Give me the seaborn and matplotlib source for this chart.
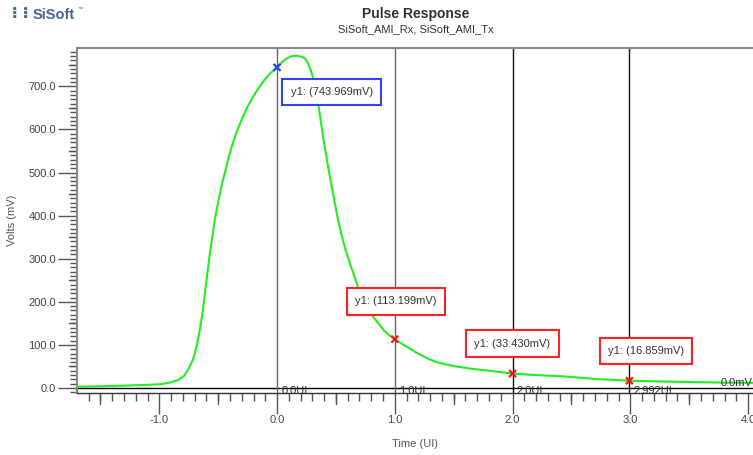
import matplotlib
matplotlib.use("Agg")
import matplotlib.pyplot as plt
import seaborn as sns
import pandas as pd
from matplotlib.ticker import MultipleLocator
from matplotlib.lines import Line2D
import matplotlib.transforms as mtransforms

# ---- data ----
time_ui = [-1.70, -1.50, -1.30, -1.15, -1.00, -0.92, -0.84, -0.79, -0.75, -0.71,
           -0.68, -0.654, -0.63, -0.611, -0.59, -0.569, -0.547, -0.527, -0.50, -0.47,
           -0.44, -0.413, -0.38, -0.342, -0.30, -0.258, -0.21, -0.159, -0.11, -0.059,
           0.00, 0.04, 0.082, 0.125, 0.167, 0.205, 0.238, 0.26, 0.28, 0.309,
           0.33, 0.351, 0.372, 0.393, 0.415, 0.436, 0.457, 0.478, 0.50, 0.521,
           0.55, 0.578, 0.62, 0.662, 0.70, 0.74, 0.78, 0.818, 0.86, 0.91,
           0.95, 1.00, 1.10, 1.19, 1.29, 1.38, 1.50, 1.64, 1.80, 2.00,
           2.20, 2.43, 2.70, 2.992, 3.30, 3.57, 3.80, 4.04]
volts_mv = [3, 4, 5.5, 7, 8.5, 12, 18.5, 28, 45, 69,
            100, 138, 180, 223, 270, 316, 356, 394, 432, 471,
            503, 533, 565, 595, 623, 649, 673, 695, 714, 730,
            744, 756, 765, 770, 771, 769, 765, 755, 742, 718,
            690, 657, 618, 579, 544, 510, 478, 448, 416, 386,
            353, 324, 288, 255, 225, 200, 180, 165, 150, 133,
            123, 113, 96, 81, 67, 58, 51, 45, 40, 33.43,
            30, 27, 21, 16.859, 15, 13.5, 12.5, 12]

cursor_ui = [0.0, 1.0, 2.0, 2.992]
cursor_mv = [743.969, 113.199, 33.430, 16.859]
cursor_lbl = ["0.0UI", "1.0UI", "2.0UI", "2.992UI"]
cursor_txt = ["y1: (743.969mV)", "y1: (113.199mV)", "y1: (33.430mV)", "y1: (16.859mV)"]
box_pos = [(0.463, 687), (1.011, 201), (2.0, 103), (3.134, 86)]

title = "Pulse Response"
subtitle = "SiSoft_AMI_Rx, SiSoft_AMI_Tx"
x_label = "Time (UI)"
y_label = "Volts (mV)"

# ---- style ----
sns.set_theme(style="white")
plt.rcParams['font.family'] = ['Liberation Sans', 'DejaVu Sans']

fig = plt.figure(figsize=(7.53, 4.55), dpi=100)
ax = fig.add_axes([77/753, 1-393/455, 1-77/753, (393-48)/455])

df = pd.DataFrame({"t": time_ui, "v": volts_mv})
sns.lineplot(data=df, x="t", y="v", ax=ax, color="#22ee22", lw=1.5, zorder=3)

ax.set_xlim(-1.699, 4.042)
ax.set_ylim(-11.6, 789)

# zero line
ax.axhline(0, color="black", lw=1, zorder=2)

# cursors
cur_colors = ["#666666", "#666666", "#111111", "#111111"]
for xu, c, lbl in zip(cursor_ui, cur_colors, cursor_lbl):
    ax.axvline(xu, color=c, lw=1, zorder=2)
    ax.annotate(lbl, xy=(xu, 0), xytext=(3, -2), textcoords="offset points",
                ha="left", va="center", fontsize=8, color="#333333", zorder=4)

mk = pd.DataFrame({"t": cursor_ui, "v": cursor_mv,
                   "c": ["blue", "red", "red", "red"]})
sns.scatterplot(data=mk, x="t", y="v", hue="c", palette={"blue": "#2244ff", "red": "#ff1111"},
                marker="x", s=25, linewidth=1.6, ax=ax, legend=False, zorder=5)

box_colors = ["#3344ff", "#ff2222", "#ff2222", "#ff2222"]
for (bx, by), txt, ec in zip(box_pos, cursor_txt, box_colors):
    ax.text(bx, by, txt, ha="center", va="center", fontsize=8, color="#333333", zorder=6,
            bbox=dict(boxstyle="square,pad=0.75", fc="white", ec=ec, lw=1.5))

ax.text(4.035, 1, "0.0mV", ha="right", va="bottom", fontsize=8, color="#333333", zorder=4)

# ticks
ax.xaxis.set_major_locator(MultipleLocator(1.0))
ax.set_xticks([v/10 for v in range(-16, 41) if v % 10 != 0], minor=True)
ax.yaxis.set_major_locator(MultipleLocator(100))
ax.yaxis.set_minor_locator(MultipleLocator(10))
ax.xaxis.set_major_formatter(matplotlib.ticker.FuncFormatter(lambda v, p: f"{v:.1f}"))
ax.yaxis.set_major_formatter(matplotlib.ticker.FuncFormatter(lambda v, p: f"{v:.1f}"))
ax.tick_params(axis="x", which="major", direction="out", length=15, width=1, color="#555555",
               labelsize=8, labelcolor="#444444", pad=1, bottom=True)
ax.tick_params(axis="x", which="minor", direction="out", length=6, width=1, color="#555555", bottom=True)
ax.tick_params(axis="y", which="major", direction="out", length=14, width=1, color="#555555",
               labelsize=8, labelcolor="#444444", pad=1, left=True)
ax.tick_params(axis="y", which="minor", direction="out", length=5, width=1, color="#555555", left=True)

# medium ticks at half units
trans = mtransforms.blended_transform_factory(ax.transData, ax.transAxes)
for xv in [-1.5, -0.5, 0.5, 1.5, 2.5, 3.5]:
    ax.add_line(Line2D([xv, xv], [0, -11/345], transform=trans, color="#555555", lw=1, clip_on=False))
transy = mtransforms.blended_transform_factory(ax.transAxes, ax.transData)
for yv in range(50, 800, 100):
    ax.add_line(Line2D([0, -8/676], [yv, yv], transform=transy, color="#555555", lw=1, clip_on=False))

for s in ["left", "top"]:
    ax.spines[s].set_color("#888888")
    ax.spines[s].set_linewidth(1.5)
ax.spines["bottom"].set_color("#333333")
ax.spines["bottom"].set_linewidth(1)
ax.spines["right"].set_visible(False)

ax.set_xlabel(x_label, fontsize=8, color="#555555", labelpad=10)
ax.set_ylabel(y_label, fontsize=8, color="#555555", labelpad=8)

fig.text(416/753, 1-14/455, title, ha="center", va="center", fontsize=10, fontweight="bold", color="#333333")
fig.text(416/753, 1-29/455, subtitle, ha="center", va="center", fontsize=8, color="#333333")

# logo
fig.text(11/753, 1-15/455, "\u2807\u2807", ha="left", va="center", fontsize=11, fontweight="bold",
         color="#4a6690", family=["DejaVu Sans"])
fig.text(33/753, 1-15/455, "SiSoft", ha="left", va="center", fontsize=10.5, fontweight="bold", color="#4a6690")
fig.text(77/753, 1-9/455, "\u2122", ha="left", va="center", fontsize=4, color="#4a6690")

fig.savefig("out.png", dpi=100)
